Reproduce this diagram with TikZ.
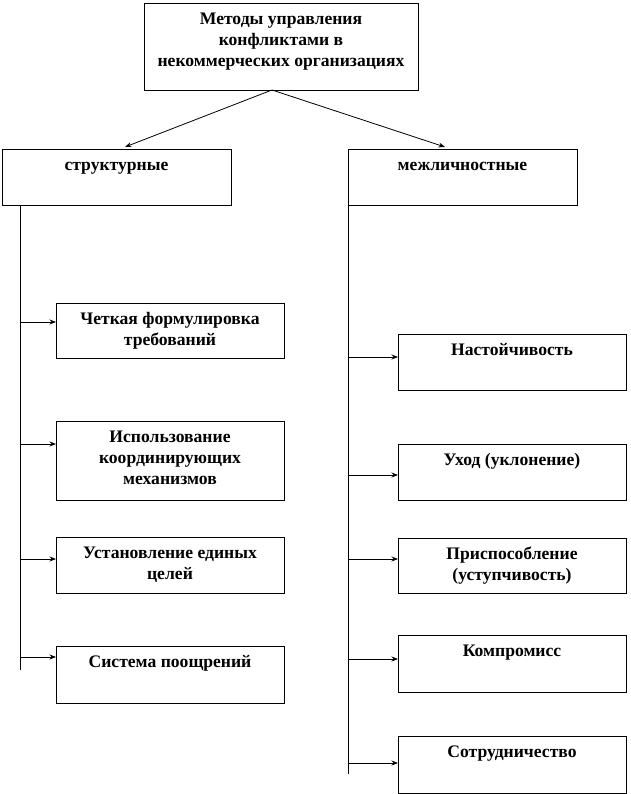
\documentclass[tikz,border=0pt]{standalone}
\usepackage{fontspec}
\setmainfont{Liberation Serif}
\usetikzlibrary{arrows.meta}
\tikzset{
  box/.style={draw, line width=0.8pt, inner sep=0pt, outer sep=0pt, anchor=north west,
    font=\bfseries\fontsize{17.6}{21}\selectfont},
  arr/.style={line width=0.8pt, -{Stealth[length=6.5pt,width=5pt]}},
  trunk/.style={line width=0.8pt}
}
\newcommand\bt[3]{\parbox[t][#2pt][t]{#1pt}{\centering\vspace*{6.5pt}\strut #3\par}}
\begin{document}
\begin{tikzpicture}[x=1pt,y=-1pt]
\useasboundingbox (0,0) rectangle (630,794);
\node[box] (top) at (144,3) {\bt{274}{87}{Методы управления\\конфликтами в\\некоммерческих организациях}};
\node[box] (s) at (2,149) {\bt{229}{56}{структурные}};
\node[box] (m) at (348,149) {\bt{229}{56}{межличностные}};
\node[box] (l1) at (56,303) {\bt{228}{55}{Четкая формулировка\\требований}};
\node[box] (l2) at (56,421) {\bt{228}{79}{Использование\\координирующих\\механизмов}};
\node[box] (l3) at (56,537) {\bt{228}{56}{Установление единых\\целей}};
\node[box] (l4) at (56,646) {\bt{228}{57}{Система поощрений}};
\node[box] (r1) at (398,334) {\bt{228}{56}{Настойчивость}};
\node[box] (r2) at (398,444) {\bt{228}{56}{Уход (уклонение)}};
\node[box] (r3) at (398,538) {\bt{228}{55}{Приспособление\\(уступчивость)}};
\node[box] (r4) at (398,635) {\bt{228}{57}{Компромисс}};
\node[box] (r5) at (398,736) {\bt{228}{57}{Сотрудничество}};

\draw[arr] ([xshift=-9pt]top.south) -- ([xshift=8.5pt,yshift=2pt]s.north);
\draw[arr] ([xshift=-9pt]top.south) -- ([xshift=-17.5pt,yshift=2pt]m.north);

\coordinate (lt) at ([xshift=18pt]s.south west);
\coordinate (lb) at (20,670);
\draw[trunk] (lt) -- (lb);
\coordinate (la1) at (20,322);
\coordinate (la2) at (20,444);
\coordinate (la3) at (20,559);
\coordinate (la4) at (20,657);
\draw[arr] (la1) -- (la1 -| l1.west);
\draw[arr] (la2) -- (la2 -| l2.west);
\draw[arr] (la3) -- (la3 -| l3.west);
\draw[arr] (la4) -- (la4 -| l4.west);

\coordinate (rb) at (348,774);
\draw[trunk] (m.south west) -- (rb);
\coordinate (ra1) at (348,357);
\coordinate (ra2) at (348,475);
\coordinate (ra3) at (348,559);
\coordinate (ra4) at (348,659);
\coordinate (ra5) at (348,763);
\draw[arr] (ra1) -- (ra1 -| r1.west);
\draw[arr] (ra2) -- (ra2 -| r2.west);
\draw[arr] (ra3) -- (ra3 -| r3.west);
\draw[arr] (ra4) -- (ra4 -| r4.west);
\draw[arr] (ra5) -- (ra5 -| r5.west);
\end{tikzpicture}
\end{document}
